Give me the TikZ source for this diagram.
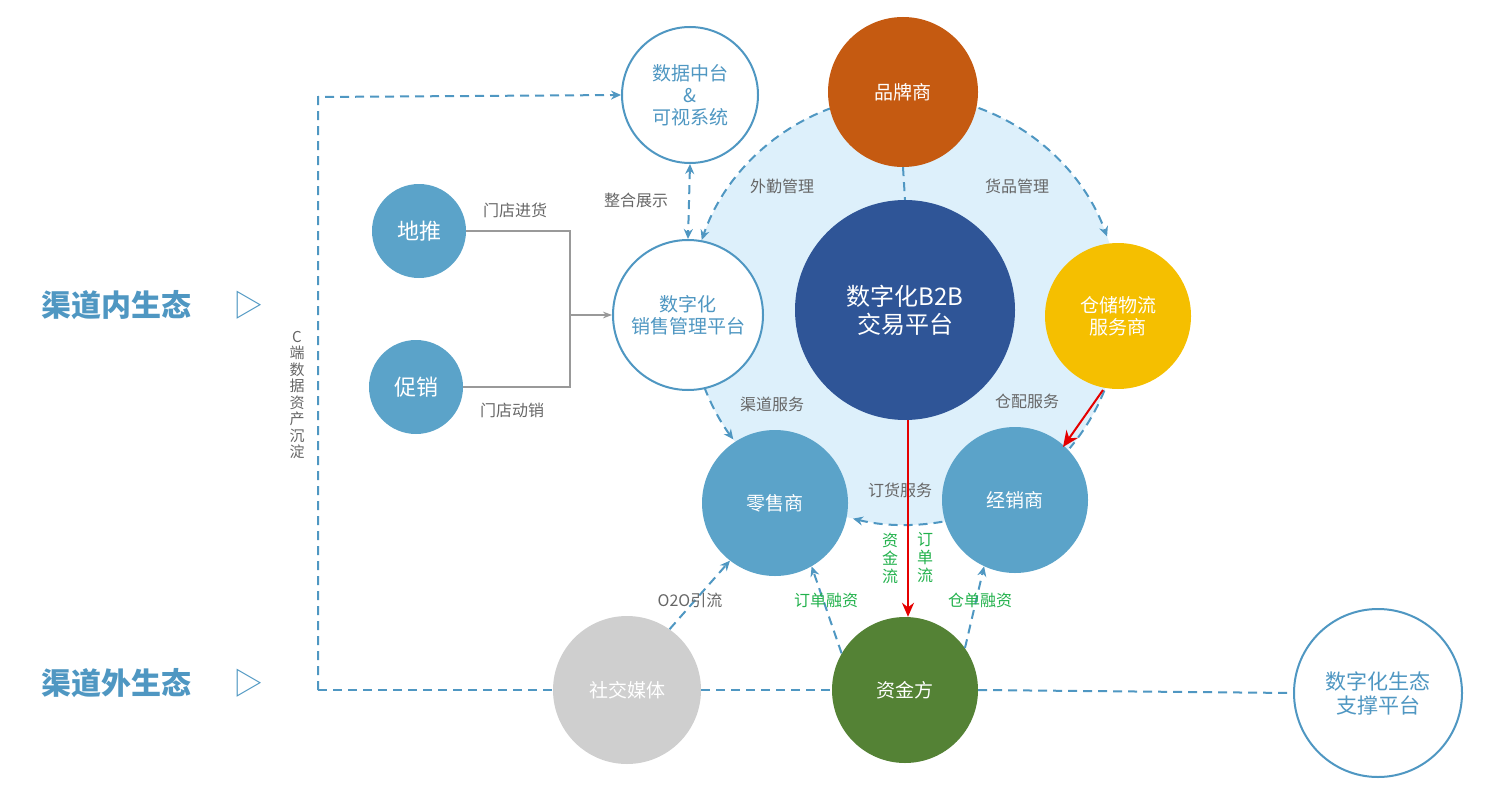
\documentclass[tikz,border=0pt]{standalone}
\usepackage{fontspec}
\setmainfont{Noto Sans CJK SC}
\usetikzlibrary{arrows.meta}
\definecolor{lb}{HTML}{5BA3C9}
\definecolor{db}{HTML}{2F5597}
\definecolor{ln}{HTML}{4F97C2}
\definecolor{org}{HTML}{C55A11}
\definecolor{yel}{HTML}{F5BF00}
\definecolor{grn}{HTML}{548235}
\definecolor{gtx}{HTML}{22B14C}
\definecolor{pale}{HTML}{DDF0FB}
\begin{document}
\begin{tikzpicture}[x=1pt,y=-1pt,
  circ/.style={circle,inner sep=0pt,align=center,font=\fontsize{19}{22}\selectfont,text=white},
  wcirc/.style={circ,draw=ln,line width=2pt,fill=white,text=ln},
  dl/.style={draw=ln,line width=2pt,dash pattern=on 9pt off 6pt},
  lab/.style={font=\fontsize{16}{18}\selectfont,text=black!60},
  glab/.style={font=\fontsize{16}{18}\selectfont,text=gtx},
  tip/.style={-{Stealth[length=10pt,width=9pt]}}]
\useasboundingbox (0,0) rectangle (1487,800);
\fill[pale] (905,310) circle (215);
% dashed arcs (angles negated because y axis points down)
\draw[dl,tip] (905,310) ++(-110:215) arc (-110:-161:215);
\draw[dl,tip] (905,310) ++(-70:215) arc (-70:-20:215);
\draw[dl,tip] (905,310) ++(-201:215) arc (-201:-217:215);
\draw[dl,tip] (905,310) ++(-280:215) arc (-280:-256:215);
\draw[dl] (905,310) ++(22:215) arc (22:40:215);
% nodes
\node[wcirc,minimum size=136pt] (dc) at (690,95) {数据中台\\\&\\可视系统};
\node[circ,fill=org,minimum size=150pt] (pp) at (903,92) {品牌商};
\node[circ,fill=lb,minimum size=94pt,font=\fontsize{22}{24}\selectfont] (dt) at (419,231) {地推};
\node[circ,fill=lb,minimum size=94pt,font=\fontsize{22}{24}\selectfont] (cx) at (416,387) {促销};
\node[wcirc,minimum size=150pt] (xs) at (688,315) {数字化\\销售管理平台};
\node[circ,fill=db,minimum size=220pt,font=\fontsize{24}{28}\selectfont] (b2b) at (905,310) {数字化B2B\\交易平台};
\node[circ,fill=yel,minimum size=146pt] (cc) at (1118,316) {仓储物流\\服务商};
\node[circ,fill=lb,minimum size=146pt] (ls) at (775,503) {零售商};
\node[circ,fill=lb,minimum size=146pt] (jx) at (1015,500) {经销商};
\node[circ,fill=black!19,minimum size=148pt] (sj) at (627,690) {社交媒体};
\node[circ,fill=grn,minimum size=146pt] (zj) at (905,690) {资金方};
\node[wcirc,minimum size=168pt,font=\fontsize{21}{24}\selectfont] (st) at (1378,693) {数字化生态\\支撑平台};
% brand-center vertical
\draw[dl] (pp.south) -- (b2b.north);
% left labels
\node[font=\fontsize{30}{32}\selectfont\bfseries,text=ln,anchor=west] (l1) at (38,305) {渠道内生态};
\node[font=\fontsize{30}{32}\selectfont,text=ln] (t1) at (248,305) {▷};
\node[font=\fontsize{30}{32}\selectfont\bfseries,text=ln,anchor=west] (l2) at (38,683) {渠道外生态};
\node[font=\fontsize{30}{32}\selectfont,text=ln] (t2) at (248,683) {▷};
% big loop
\coordinate (c1) at (318,690);
\coordinate (c2) at (318,97);
\draw[dl,tip] (c1) -- (c2) -- (dc.west);
\draw[dl] (c1) -- (sj.west);
\draw[dl] (sj.east) -- (zj.west);
\draw[dl] (zj.east) -- (st.west);
\node[font=\fontsize{15}{16.5}\selectfont,text=black!60,align=center] (cd) at (297,395) {C\\端\\数\\据\\资\\产\\沉\\淀};
% gray connectors
\coordinate (j1) at (570,231);
\coordinate (j2) at (570,387);
\coordinate (j3) at (570,315);
\draw[black!40,line width=1.5pt] (dt.east) -- (j1) -- (j2) -- (cx.east);
\draw[black!40,line width=1.5pt,-{Stealth[length=9pt]}] (j3) -- (xs.west);
\node[lab] at (515,210) {门店进货};
\node[lab] at (512,410) {门店动销};
% dc <-> xs
\draw[dl,{Stealth[length=10pt,width=9pt]}-{Stealth[length=10pt,width=9pt]}] (dc.south) -- (xs.north);
\node[lab] at (636,200) {整合展示};
\node[lab] at (782,186) {外勤管理};
\node[lab] at (1017,186) {货品管理};
\node[lab] at (772,404) {渠道服务};
\node[lab] at (1027,401) {仓配服务};
\node[lab] at (900,490) {订货服务};
% red arrows
\draw[red!90!black,line width=2pt,-{Stealth[length=14pt,width=12pt]}] (908,420) -- (zj.north -| 908,0);
\draw[red!90!black,line width=2pt,-{Stealth[length=16pt,width=14pt]}] (1103,390) -- (1063,447);
\node[glab,align=center,font=\fontsize{16}{18}\selectfont] at (890,558) {资\\金\\流};
\node[glab,align=center,font=\fontsize{16}{18}\selectfont] at (925,558) {订\\单\\流};
% financing
\draw[dl,tip] (zj.150) -- (ls.300);
\draw[dl,tip] (zj.35) -- (jx.245);
\node[glab] at (826,600) {订单融资};
\node[glab] at (980,600) {仓单融资};
\draw[dl,tip] (sj.55) -- (ls.232);
\node[lab] at (690,600) {O2O引流};
\end{tikzpicture}
\end{document}
